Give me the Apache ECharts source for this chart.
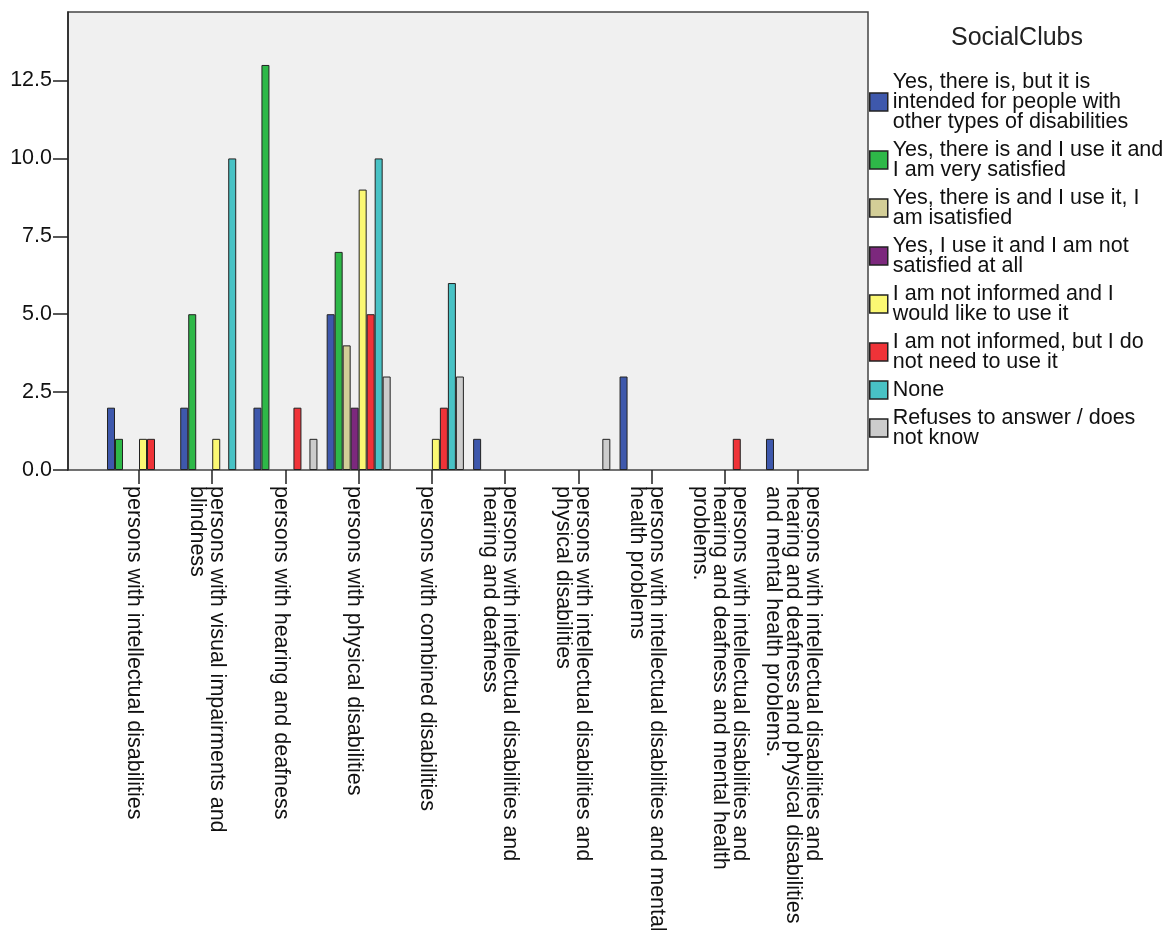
<!DOCTYPE html>
<html>
<head>
<meta charset="utf-8">
<script src="https://cdn.jsdelivr.net/npm/echarts@6/dist/echarts.min.js"></script>
<style>
  html, body { margin: 0; padding: 0; background: #ffffff; }
  #chart { width: 1173px; height: 930px; }
</style>
</head>
<body>
<div id="chart"></div>
<script>
// Category tick labels (line breaks as in the reference)
const categories = [
  'persons with intellectual disabilities',
  'persons with visual impairments and\nblindness',
  'persons with hearing and deafness',
  'persons with physical disabilities',
  'persons with combined disabilities',
  'persons with intellectual disabilities and\nhearing and deafness',
  'persons with intellectual disabilities and\nphysical disabilities',
  'persons with intellectual disabilities and mental\nhealth problems',
  'persons with intellectual disabilities and\nhearing and deafness and mental health\nproblems.',
  'persons with intellectual disabilities and\nhearing and deafness and physical disabilities\nand mental health problems.'
];

// Series names and their wrapped legend labels
const seriesNames = [
  'Yes, there is, but it is intended for people with other types of disabilities',
  'Yes, there is and I use it and I am very satisfied',
  'Yes, there is and I use it, I am isatisfied',
  'Yes, I use it and I am not satisfied at all',
  'I am not informed and I would like to use it',
  'I am not informed, but I do not need to use it',
  'None',
  'Refuses to answer / does not know'
];
const legendLabels = [
  'Yes, there is, but it is\nintended for people with\nother types of disabilities',
  'Yes, there is and I use it and\nI am very satisfied',
  'Yes, there is and I use it, I\nam isatisfied',
  'Yes, I use it and I am not\nsatisfied at all',
  'I am not informed and I\nwould like to use it',
  'I am not informed, but I do\nnot need to use it',
  'None',
  'Refuses to answer / does\nnot know'
];

// Counts per category
const otherTypes        = [2, 2, 2, 5, 0, 1, 0, 3, 0, 1];
const verySatisfied     = [1, 5, 13, 7, 0, 0, 0, 0, 0, 0];
const satisfied         = [0, 0, 0, 4, 0, 0, 0, 0, 0, 0];
const notSatisfied      = [0, 0, 0, 2, 0, 0, 0, 0, 0, 0];
const notInformedUse    = [1, 1, 0, 9, 1, 0, 0, 0, 0, 0];
const notInformedNoNeed = [1, 0, 2, 5, 2, 0, 0, 0, 1, 0];
const noneValues        = [0, 10, 0, 10, 6, 0, 0, 0, 0, 0];
const refuses           = [0, 0, 1, 3, 3, 0, 1, 0, 0, 0];

// Y axis tick values
const yTicks = [0, 2.5, 5, 7.5, 10, 12.5];
const yMax = 14.7;

const seriesValues = [otherTypes, verySatisfied, satisfied, notSatisfied,
                      notInformedUse, notInformedNoNeed, noneValues, refuses];
const colors = ['#3E58AC', '#2EB848', '#D3CE97', '#7C287D',
                '#FBF873', '#EF3338', '#48C2C5', '#CCCCCC'];

const FONT = 'Liberation Sans';
const FS = 21.5;
const LABEL_SHIFT = 5; // category labels sit slightly left of their ticks

const chart = echarts.init(document.getElementById('chart'), null, { renderer: 'canvas' });

const option = {
  animation: false,
  backgroundColor: '#ffffff',
  textStyle: { fontFamily: FONT },
  graphic: [{
    type: 'text',
    x: 1017,
    y: 38,
    style: {
      text: 'SocialClubs',
      align: 'center',
      verticalAlign: 'middle',
      fontFamily: FONT,
      fontSize: 25,
      fill: '#222'
    }
  }],
  grid: [
    { left: 68, right: 305, top: 12, bottom: 460, show: true, outerBoundsMode: 'none',
      containLabel: false,
      backgroundColor: '#F0F0F0', borderColor: '#444', borderWidth: 1.5 },
    { left: 102.4, right: 338.4, top: 12, bottom: 460, outerBoundsMode: 'none',
      containLabel: false },
    { left: 102.4 - LABEL_SHIFT, right: 338.4 + LABEL_SHIFT, top: 12, bottom: 460,
      outerBoundsMode: 'none', containLabel: false }
  ],
  xAxis: [
    { gridIndex: 0, type: 'value', show: false, min: 0, max: 1 },
    {
      gridIndex: 1, type: 'category', data: categories,
      axisLine: { show: false },
      axisTick: { show: true, interval: 0, alignWithLabel: true, length: 14,
                  lineStyle: { color: '#222', width: 1.5 } },
      axisLabel: { show: false, interval: 0 },
      splitLine: { show: false }
    },
    {
      gridIndex: 2, type: 'category', data: categories,
      axisLine: { show: false },
      axisTick: { show: false },
      axisLabel: {
        interval: 0, rotate: -90, margin: 16,
        fontFamily: FONT, fontSize: FS, lineHeight: 20, color: '#111'
      },
      splitLine: { show: false }
    }
  ],
  yAxis: [
    {
      gridIndex: 0, type: 'value', min: 0, max: yMax,
      axisLine: { show: true, lineStyle: { color: '#222', width: 1.5 } },
      axisTick: { show: true, length: 15, customValues: yTicks,
                  lineStyle: { color: '#222', width: 1.5 } },
      axisLabel: { customValues: yTicks, margin: 16, fontFamily: FONT,
                   fontSize: FS, color: '#111',
                   formatter: v => Number(v).toFixed(1) },
      splitLine: { show: false }
    },
    { gridIndex: 1, type: 'value', min: 0, max: yMax, show: false,
      splitLine: { show: false } },
    { gridIndex: 2, type: 'value', min: 0, max: yMax, show: false,
      splitLine: { show: false } }
  ],
  legend: {
    orient: 'vertical',
    left: 869,
    top: 71,
    padding: 0,
    itemWidth: 18,
    itemHeight: 18,
    itemGap: 6,
    icon: 'rect',
    selectedMode: false,
    itemStyle: { borderColor: '#222', borderWidth: 1.5 },
    textStyle: { fontFamily: FONT, fontSize: FS, lineHeight: 20, color: '#111' },
    formatter: n => legendLabels[seriesNames.indexOf(n)],
    data: seriesNames
  },
  series: seriesNames.map((name, i) => ({
    name: name,
    type: 'bar',
    xAxisIndex: 1,
    yAxisIndex: 1,
    barWidth: 8,
    barGap: '0%',
    // zero counts keep their value but draw no outline (invisible, as in the reference)
    data: seriesValues[i].map(v => v === 0 ? { value: v, itemStyle: { borderWidth: 0 } } : v),
    itemStyle: { color: colors[i], borderColor: '#222', borderWidth: 1 }
  }))
};

chart.setOption(option);
</script>
</body>
</html>
